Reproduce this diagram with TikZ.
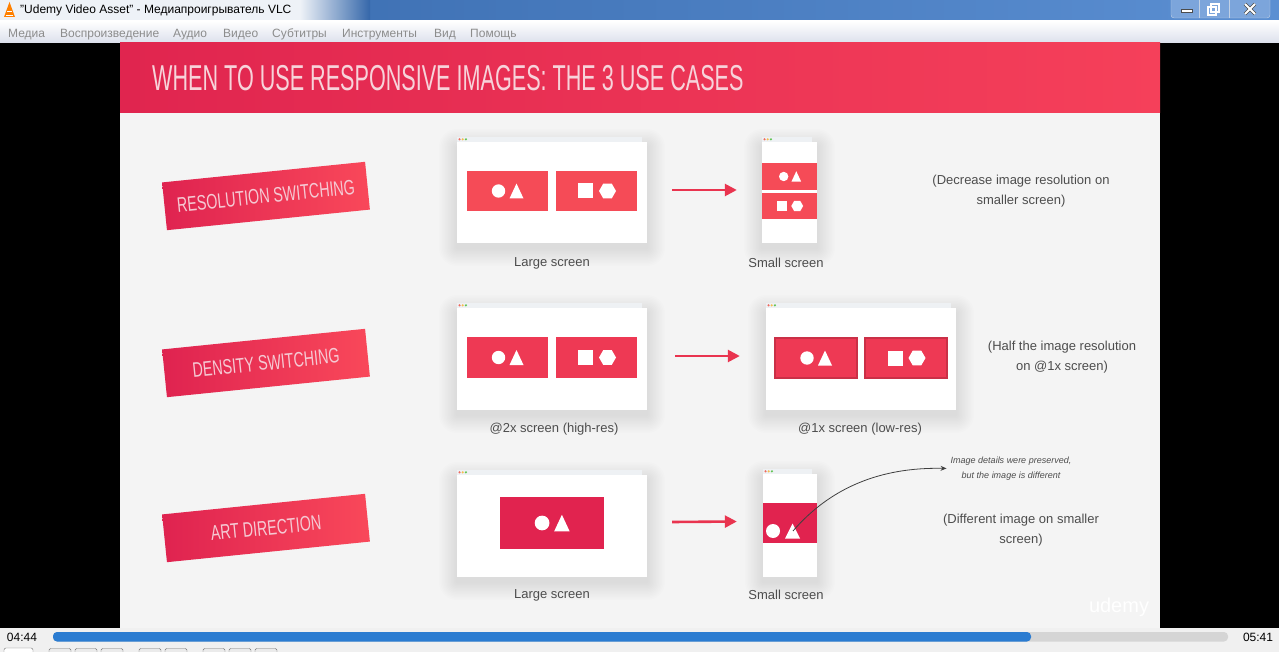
\documentclass[tikz,border=0pt]{standalone}
\usepackage{graphicx}
\usepackage{fontspec}
\setmainfont{Liberation Sans}
\usetikzlibrary{arrows.meta}

\definecolor{titleblueA}{HTML}{3567AA}
\definecolor{titleblueB}{HTML}{5B8FD2}
\definecolor{titlepale}{HTML}{EEF2F7}
\definecolor{menubot}{HTML}{DCE0EC}
\definecolor{menutext}{HTML}{8C8C8C}
\definecolor{bannerL}{HTML}{E0254F}
\definecolor{bannerR}{HTML}{F5405A}
\definecolor{badgeL}{HTML}{DF2350}
\definecolor{badgeR}{HTML}{F9485A}
\definecolor{badgetext}{HTML}{F5C9D3}
\definecolor{titletext}{HTML}{F7D3DA}
\definecolor{slidebg}{HTML}{F4F4F4}
\definecolor{tileA}{HTML}{F54B57}
\definecolor{tileB}{HTML}{EE3954}
\definecolor{tileC}{HTML}{E1234F}
\definecolor{arrowred}{HTML}{E9344F}
\definecolor{captext}{HTML}{4D4D4D}
\definecolor{screenbar}{HTML}{EEF1F4}
\definecolor{dotred}{HTML}{EE6A5F}
\definecolor{dotyel}{HTML}{F5BD4F}
\definecolor{dotgrn}{HTML}{61C454}
\definecolor{ctrlbg}{HTML}{F0F0F0}
\definecolor{groove}{HTML}{D5D5D5}
\definecolor{progblue}{HTML}{2B7CD1}

\newcommand{\condensed}[2]{\scalebox{#1}[1]{#2}}
\newcommand{\circtri}[3]{%
  \fill[white] (#1-9*#3,#2) circle[radius=6.7*#3];
  \fill[white] (#1+2*#3,#2+7.5*#3) -- (#1+16*#3,#2+7.5*#3) -- (#1+9*#3,#2-7.5*#3) -- cycle;}
\newcommand{\sqhex}[3]{%
  \fill[white] (#1-18.5*#3,#2-7.5*#3) rectangle (#1-3.5*#3,#2+7.5*#3);
  \fill[white] (#1+19.5*#3,#2) -- (#1+15.25*#3,#2-7.4*#3) -- (#1+6.75*#3,#2-7.4*#3)
    -- (#1+2.5*#3,#2) -- (#1+6.75*#3,#2+7.4*#3) -- (#1+15.25*#3,#2+7.4*#3) -- cycle;}
% name, x, y, width, height
\newcommand{\browser}[5]{%
  \foreach \d in {1.5,3,...,18}
    \fill[black,opacity=0.008,rounded corners=\d] (#2-#4/2-\d,#3-#5/2-\d+5) rectangle (#2+#4/2+\d,#3+#5/2+\d+5);
  \node[screen,minimum width=#4,minimum height=#5] (#1) at (#2,#3) {};
  \fill[screenbar] ([yshift=5]#1.north west) rectangle ([xshift=-5]#1.north east);
  \foreach \c [count=\i] in {dotred,dotyel,dotgrn}
    \fill[\c] ([xshift=-0.5+3.2*\i,yshift=2.5]#1.north west) circle[radius=1.2];}

\begin{document}
\begin{tikzpicture}[x=1pt,y=-1pt,
  screen/.style={fill=white,inner sep=0},
  tile/.style={inner sep=0,minimum width=81,minimum height=40},
  badge/.style={left color=badgeL,right color=badgeR,minimum width=204,minimum height=48,
    inner sep=0,text=badgetext,font=\fontsize{21}{21}\selectfont},
  redarrow/.style={arrowred,line width=2.6,-{Triangle[length=12pt,width=12pt]}},
  caption/.style={text=captext,font=\fontsize{13}{15}\selectfont},
  note/.style={text=captext,align=center,font=\fontsize{13}{20}\selectfont},
  menu/.style={anchor=base west,text=menutext,inner sep=0,font=\fontsize{12}{12}\selectfont}]
  \useasboundingbox (0,0) rectangle (1279,652);
  \clip (0,0) rectangle (1279,652);

  % window frame
  \shade[left color=titleblueA,right color=titleblueB] (0,0) rectangle (1279,21);
  \fill[titlepale] (0,0) rectangle (300,21);
  \shade[left color=titlepale,right color=titleblueA] (300,0) rectangle (370,21);
  \fill[orange] (4,17) -- (9.5,2) -- (15,17) -- cycle;
  \fill[white] (7.2,11) rectangle (11.8,12.5);
  \fill[white] (5.6,15) rectangle (13.4,16.3);
  \node[anchor=west,inner sep=0,font=\fontsize{12}{12}\selectfont] (wintitle) at (20,10)
    {"Udemy Video Asset" - Медиапроигрыватель VLC};
  \filldraw[fill=titleblueB!80!white,draw=white!70!titleblueA,rounded corners=3] (1171,-4) rectangle (1270,18);
  \draw[white!70!titleblueA] (1199,0) -- (1199,18) (1229,0) -- (1229,18);
  \filldraw[fill=white,draw=black!70] (1181,9.5) rectangle (1192,12.5);
  \draw[black!70,line width=2.2] (1211,4) rectangle (1219,12) (1208,7) rectangle (1216,15);
  \draw[white,line width=1.1] (1211,4) rectangle (1219,12) (1208,7) rectangle (1216,15);
  \draw[black!70,line width=3.4] (1245,4) -- (1255,14) (1255,4) -- (1245,14);
  \draw[white,line width=2] (1245,4) -- (1255,14) (1255,4) -- (1245,14);
  \draw[black!70!blue] (0,20.5) -- (1279,20.5);
  \shade[top color=white,bottom color=menubot] (0,21) rectangle (1279,43);
  \foreach \x/\m [count=\k] in {8/Медиа,60/Воспроизведение,173/Аудио,223/Видео,272/Субтитры,342/Инструменты,434/Вид,470/Помощь}
    \node[menu] (menu\k) at (\x,37.5) {\m};

  % video area and slide
  \fill[black] (0,43) rectangle (1279,628);
  \shade[left color=bannerL,right color=bannerR] (120,43) rectangle (1160,113);
  \fill[slidebg] (120,113) rectangle (1160,628);
  \node[anchor=west,inner sep=0,text=titletext,font=\fontsize{36}{36}\selectfont] (title) at (152,78)
    {\condensed{0.6}{WHEN TO USE RESPONSIVE IMAGES: THE 3 USE CASES}};
  \node[text=white,font=\fontsize{20}{20}\selectfont] (logo) at (1119,607) {udemy};

  \node[badge,rotate=5.8] (res) at (266,196) {\condensed{0.68}{RESOLUTION SWITCHING}};
  \node[badge,rotate=5.8] (dens) at (266,363) {\condensed{0.68}{DENSITY SWITCHING}};
  \node[badge,rotate=5.8] (art) at (266,528) {\condensed{0.68}{ART DIRECTION}};

  % resolution switching
  \browser{lg1}{552}{192.5}{190}{101}
  \browser{sm1}{789.5}{192.5}{55}{101}
  \node[tile,fill=tileA] (t1a) at (507.5,191) {};
  \node[tile,fill=tileA] (t1b) at (596.5,191) {};
  \node[tile,fill=tileA,minimum width=55,minimum height=27] (t1c) at (789.5,176.5) {};
  \node[tile,fill=tileA,minimum width=55,minimum height=26] (t1d) at (789.5,206) {};
  \circtri{507.5}{191}{1} \sqhex{596.5}{191}{1}
  \circtri{790}{176.5}{0.7} \sqhex{789.5}{206}{0.7}
  \draw[redarrow] ([xshift=25,yshift=2.5]lg1.east) -- ([xshift=-25,yshift=2.5]sm1.west);
  \node[caption] (cap1a) at (552,263) {Large screen};
  \node[caption] (cap1b) at (786,263) {Small screen};
  \node[note] (note1) at (1021,191) {(Decrease image resolution on\\smaller screen)};

  % density switching
  \browser{lg2}{552}{359}{190}{102}
  \browser{sm2}{861}{359}{190}{102}
  \node[tile,fill=tileB,minimum height=41] (t2a) at (507.5,357.5) {};
  \node[tile,fill=tileB,minimum height=41] (t2b) at (596.5,357.5) {};
  \node[tile,fill=tileB,draw=tileB!85!black,line width=1.4,minimum width=82] (t2c) at (816,358) {};
  \node[tile,fill=tileB,draw=tileB!85!black,line width=1.4,minimum width=82] (t2d) at (906,358) {};
  \circtri{507.5}{357.5}{1} \sqhex{596.5}{357.5}{1}
  \circtri{816}{358}{1} \sqhex{906}{358}{1}
  \draw[redarrow] ([xshift=28,yshift=3]lg2.east) -- ([xshift=-26,yshift=3]sm2.west);
  \node[caption] (cap2a) at (554,429) {@2x screen (high-res)};
  \node[caption] (cap2b) at (860,429) {@1x screen (low-res)};
  \node[note] (note2) at (1062,357) {(Half the image resolution\\on @1x screen)};

  % art direction
  \browser{lg3}{552}{526}{190}{102}
  \browser{sm3}{790}{525.5}{54}{103}
  \node[tile,fill=tileC,minimum width=104,minimum height=52] (t3a) at (552,523) {};
  \node[tile,fill=tileC,minimum width=54,minimum height=40] (t3b) at (790,523) {};
  \circtri{552}{523}{1.1}
  \fill[white] (773,531) circle[radius=7];
  \fill[white] (785,538.5) -- (800,538.5) -- (792.5,523.5) -- cycle;
  \coordinate (tri3) at (793,531);
  \draw[redarrow] ([xshift=25,yshift=4]lg3.east) -- ([xshift=-26,yshift=4]sm3.west);
  \node[caption] (cap3a) at (552,595) {Large screen};
  \node[caption] (cap3b) at (786,595) {Small screen};
  \node[note] (note3) at (1021,530) {(Different image on smaller\\screen)};
  \node[text=captext,align=center,inner sep=1,font=\fontsize{9}{15}\selectfont\itshape] (detail) at (1011,468.5)
    {Image details were preserved,\\but the image is different};
  \draw[black!75,line width=0.8,-{Stealth[length=6pt,width=5pt]},shorten >=3pt]
    (tri3) .. controls (830,488) and (880,467) .. (detail.west);

  % player controls
  \fill[ctrlbg] (0,628) rectangle (1279,652);
  \fill[groove,rounded corners=4] (53,632) rectangle (1228,641.5);
  \fill[progblue,rounded corners=4] (53,632) rectangle (1031,641.5);
  \node[font=\fontsize{12}{12}\selectfont] (elapsed) at (22,637) {04:44};
  \node[font=\fontsize{12}{12}\selectfont] (total) at (1258,637) {05:41};
  \filldraw[fill=white,draw=black!55,rounded corners=2] (4,648) rectangle (33,662);
  \foreach \x in {49,75,101,139,165,203,229,255}
    \filldraw[fill=black!8,draw=black!55,rounded corners=1.5] (\x,648.5) rectangle (\x+22,662);
\end{tikzpicture}
\end{document}
